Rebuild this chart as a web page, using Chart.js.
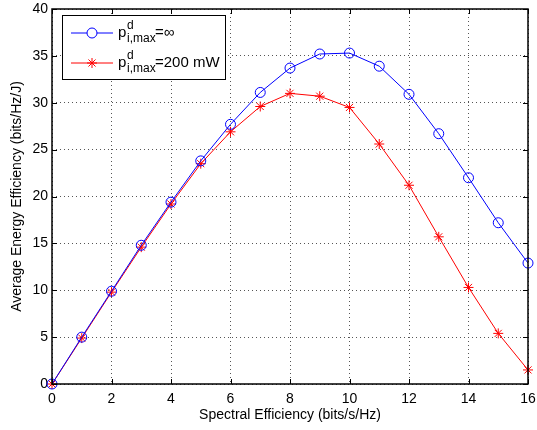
<!DOCTYPE html>
<html>
<head>
<meta charset="utf-8">
<script src="https://cdn.jsdelivr.net/npm/chart.js@4/dist/chart.umd.min.js"></script>
<style>
  body { margin: 0; background: #fff; }
  #wrap { width: 537px; height: 430px; }
</style>
</head>
<body>
<div id="wrap"><canvas id="myChart"></canvas></div>
<script>
const xValues = [0, 1, 2, 3, 4, 5, 6, 7, 8, 9, 10, 11, 12, 13, 14, 15, 16];
const unlimited = [0, 5.0, 9.9, 14.8, 19.4, 23.8, 27.7, 31.1, 33.7, 35.2, 35.3, 33.9, 30.9, 26.7, 22.0, 17.2, 12.9];
const limited200 = [0, 4.9, 9.8, 14.6, 19.2, 23.5, 26.9, 29.6, 31.0, 30.7, 29.5, 25.6, 21.2, 15.7, 10.3, 5.4, 1.5];
const xTicks = [0, 2, 4, 6, 8, 10, 12, 14, 16];
const yTicks = [0, 5, 10, 15, 20, 25, 30, 35, 40];

const font = "Liberation Sans, Arial, sans-serif";

function toPoints(ys) {
    return xValues.map((x, i) => ({ x: x, y: ys[i] }));
}

// matlab-ish legend box with sub/superscripts
const legendBox = {
    id: "legendBox",
    afterDraw(chart) {
        const ctx = chart.ctx;
        const ds = chart.data.datasets;
        const labels = ["=\u221e", "=200 mW"];
        ctx.save();
        ctx.fillStyle = "#fff";
        ctx.fillRect(62, 15, 163, 64);
        ctx.strokeStyle = "#000";
        ctx.lineWidth = 1;
        ctx.strokeRect(62.5, 15.5, 163, 64);
        for (let i = 0; i < 2; i++) {
            const y = 33 + i * 30;
            ctx.strokeStyle = ds[i].borderColor;
            ctx.beginPath();
            ctx.moveTo(71, y);
            ctx.lineTo(113, y);
            ctx.stroke();
            Chart.helpers.drawPoint(ctx, {
                pointStyle: ds[i].pointStyle,
                radius: 5,
                borderWidth: 1
            }, 92, y);
            ctx.fillStyle = "#000";
            ctx.textBaseline = "alphabetic";
            ctx.font = "15px " + font;
            ctx.fillText("p", 118, y + 4);
            ctx.font = "12px " + font;
            ctx.fillText("d", 127, y - 4);
            ctx.fillText("i,max", 127, y + 9);
            ctx.font = "15px " + font;
            ctx.fillText(labels[i], 155, y + 4);
        }
        ctx.restore();
    }
};

// draw outer box + inward ticks on all sides
const frame = {
    id: "frame",
    afterDatasetsDraw(chart) {
        const ctx = chart.ctx;
        const a = chart.chartArea;
        const xs = chart.scales.x, ys = chart.scales.y;
        ctx.save();
        ctx.strokeStyle = "#000";
        ctx.lineWidth = 1;
        ctx.beginPath();
        xTicks.forEach(t => {
            const px = Math.round(xs.getPixelForValue(t)) + 0.5;
            ctx.moveTo(px, a.bottom); ctx.lineTo(px, a.bottom - 5);
            ctx.moveTo(px, a.top); ctx.lineTo(px, a.top + 5);
        });
        yTicks.forEach(t => {
            const py = Math.round(ys.getPixelForValue(t)) + 0.5;
            ctx.moveTo(a.left, py); ctx.lineTo(a.left + 5, py);
            ctx.moveTo(a.right, py); ctx.lineTo(a.right - 5, py);
        });
        ctx.stroke();
        ctx.lineWidth = 1.5;
        ctx.strokeRect(a.left, a.top, a.right - a.left, a.bottom - a.top);
        ctx.restore();
    }
};

var ctx = document.getElementById("myChart").getContext("2d");
var myChart = new Chart(ctx, {
    type: "line",
    data: {
        datasets: [
            {
                label: "p_i,max^d=inf",
                data: toPoints(unlimited),
                borderColor: "#0000ff",
                backgroundColor: "rgba(0,0,0,0)",
                borderWidth: 1,
                pointStyle: "circle",
                pointRadius: 5,
                pointBorderWidth: 1,
                pointBorderColor: "#0000ff",
                pointBackgroundColor: "rgba(0,0,0,0)"
            },
            {
                label: "p_i,max^d=200 mW",
                data: toPoints(limited200),
                borderColor: "#ff0000",
                backgroundColor: "rgba(0,0,0,0)",
                borderWidth: 1,
                pointStyle: "star",
                pointRadius: 5,
                pointBorderWidth: 1,
                pointBorderColor: "#ff0000"
            }
        ]
    },
    options: {
        responsive: true,
        maintainAspectRatio: false,
        animation: false,
        clip: false,
        layout: { padding: { left: 0, right: 9, top: 9, bottom: 0 } },
        plugins: {
            legend: { display: false },
            tooltip: { enabled: false }
        },
        scales: {
            x: {
                type: "linear",
                min: 0,
                max: 16,
                afterBuildTicks: s => { s.ticks = xTicks.map(v => ({ value: v })); },
                afterFit: s => {
                    s.height = 46;
                    s.paddingLeft = 0;
                    s.paddingRight = 0;
                },
                grid: {
                    color: "#555",
                    lineWidth: 1,
                    tickLength: 0,
                    drawTicks: false
                },
                border: { display: false, dash: [1, 3] },
                ticks: {
                    color: "#000",
                    font: { family: font, size: 14 },
                    padding: 7,
                    maxRotation: 0
                },
                title: {
                    display: true,
                    text: "Spectral Efficiency (bits/s/Hz)",
                    color: "#000",
                    font: { family: font, size: 14 },
                    padding: { top: 0, bottom: 6 }
                }
            },
            y: {
                type: "linear",
                min: 0,
                max: 40,
                afterBuildTicks: s => { s.ticks = yTicks.map(v => ({ value: v })); },
                afterFit: s => {
                    s.width = 52;
                    s.paddingTop = 0;
                    s.paddingBottom = 0;
                },
                grid: {
                    color: "#555",
                    lineWidth: 1,
                    drawTicks: false
                },
                border: { display: false, dash: [1, 3] },
                ticks: {
                    color: "#000",
                    font: { family: font, size: 14 },
                    padding: 4
                },
                title: {
                    display: true,
                    text: "Average Energy Efficiency (bits/Hz/J)",
                    color: "#000",
                    font: { family: font, size: 14 },
                    padding: { top: 9, bottom: 0 }
                }
            }
        }
    },
    plugins: [frame, legendBox]
});
</script>
</body>
</html>
